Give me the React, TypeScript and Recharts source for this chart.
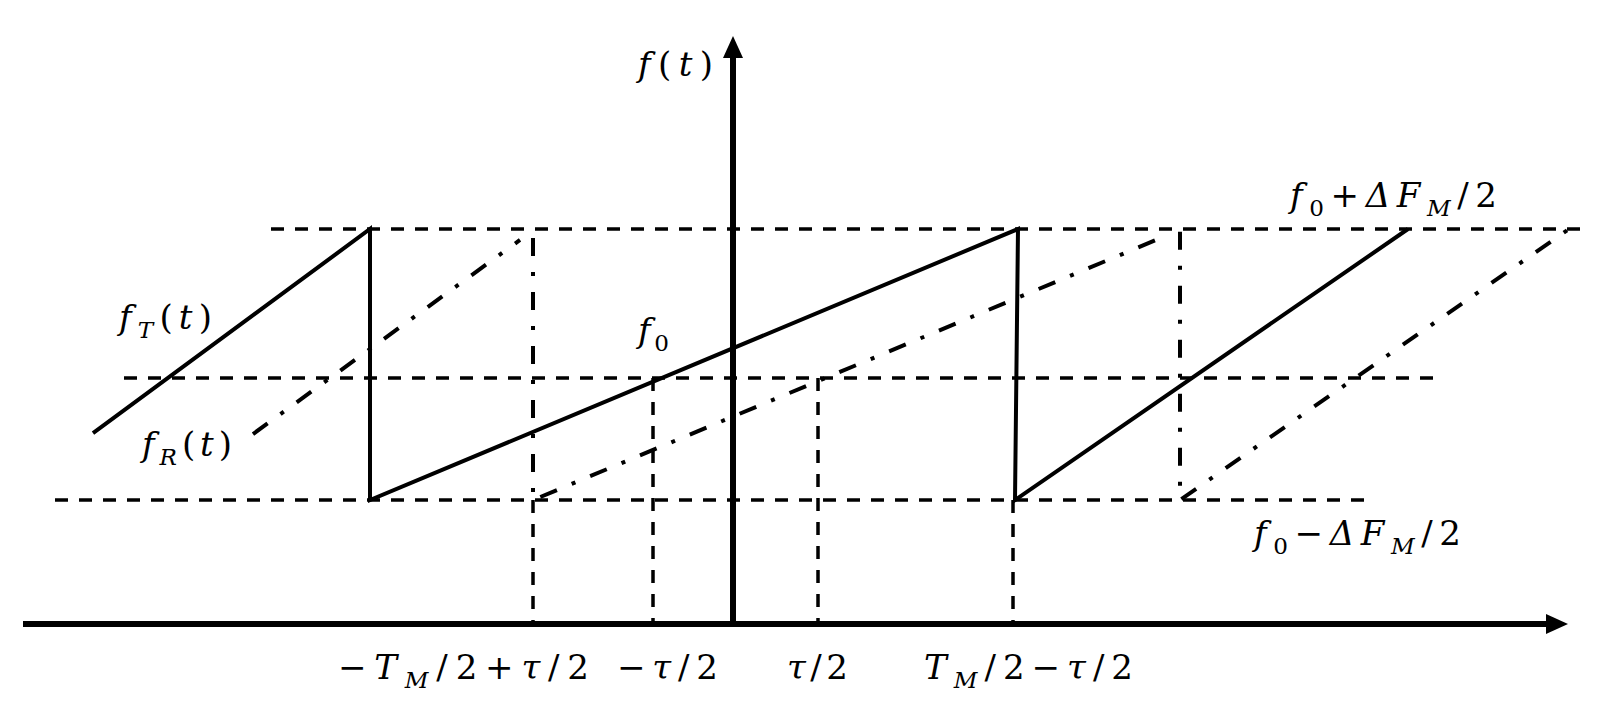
import React from 'react';
import { LineChart, Line, XAxis, YAxis, ReferenceLine, ReferenceDot } from 'recharts';

// ---- data (t: time units, f: normalised frequency; f0 ± ΔF_M/2 = ±1) ----
const X_DOMAIN: [number, number] = [-7.33, 8.88];
const Y_DOMAIN: [number, number] = [-2.579, 2.69];

const F_TOP = 1; // f0 + ΔF_M/2
const F_MID = -0.1; // f0
const F_BOT = -1; // f0 - ΔF_M/2
const AXIS_F = -1.915;
const AXIS_TOP = 2.424;
const AXIS_LEFT = -7.1;
const AXIS_RIGHT = 8.35;

const transmitted = [
  { t: -6.4, f: -0.506 },
  { t: -3.63, f: 1 },
  { t: -3.63, f: -1 },
  { t: 2.85, f: 1 },
  { t: 2.82, f: -1 },
  { t: 6.75, f: 1 },
];

const received = [
  { t: -4.8, f: -0.513 },
  { t: -2.13, f: 0.919 },
  { t: -2.07, f: null },
  { t: -2.0, f: 0.934 },
  { t: -2.0, f: -1 },
  { t: 4.23, f: 0.919 },
  { t: 4.35, f: null },
  { t: 4.47, f: 0.98 },
  { t: 4.47, f: -1 },
  { t: 8.36, f: 1 },
];

const levelLines = [
  { f: F_TOP, from: -4.62, to: 8.49 },
  { f: F_MID, from: -6.09, to: 7.07 },
  { f: F_BOT, from: -6.78, to: 6.37 },
];

const tickDrops = [
  { t: -2.0, from: F_BOT },
  { t: -0.8, from: F_MID },
  { t: 0.85, from: F_MID },
  { t: 2.8, from: F_BOT },
];

type Part = [string, string];

const tickLabels: { t: number; parts: Part[]; width: number; dx: number }[] = [
  { t: -2.0, parts: [['−', 'n'], ['T', 'i'], ['M', 'is'], ['/2+', 'n'], ['τ', 'i'], ['/2', 'n']], width: 251, dx: -195 },
  { t: -0.8, parts: [['−', 'n'], ['τ', 'i'], ['/2', 'n']], width: 101, dx: -36 },
  { t: 0.85, parts: [['τ', 'i'], ['/2', 'n']], width: 61, dx: -31 },
  { t: 2.8, parts: [['T', 'i'], ['M', 'is'], ['/2−', 'n'], ['τ', 'i'], ['/2', 'n']], width: 209, dx: -89 },
];

const curveLabels: { t: number; f: number; parts: Part[]; width: number; dx: number; dy: number }[] = [
  { t: 0, f: AXIS_TOP, parts: [['f', 'i'], ['(', 'n'], ['t', 'i'], [')', 'n']], width: 75, dx: -95, dy: 40 },
  { t: -6.4, f: -0.506, parts: [['f', 'i'], ['T', 'is'], ['(', 'n'], ['t', 'i'], [')', 'n']], width: 93, dx: 26, dy: -104 },
  { t: -4.8, f: -0.513, parts: [['f', 'i'], ['R', 'is'], ['(', 'n'], ['t', 'i'], [')', 'n']], width: 90, dx: -111, dy: 22 },
  { t: -0.8, f: F_MID, parts: [['f', 'i'], ['0', 'ns']], width: 31, dx: -15, dy: -36 },
  { t: 8.49, f: F_TOP, parts: [['f', 'i'], ['0', 'ns'], ['+', 'n'], ['ΔF', 'i'], ['M', 'is'], ['/2', 'n']], width: 207, dx: -292, dy: -22 },
  { t: 6.37, f: F_BOT, parts: [['f', 'i'], ['0', 'ns'], ['−', 'n'], ['ΔF', 'i'], ['M', 'is'], ['/2', 'n']], width: 207, dx: -116, dy: 45 },
];

// ---- drawing helpers ----
const FONT = 'DejaVu Serif';
const SIZE = 34;

function MathText({ x, y, parts, width }: { x: number; y: number; parts: Part[]; width: number }) {
  let shifted = false;
  const kids = parts.map(([s, st], i) => {
    const sub = st.endsWith('s');
    const italic = st.startsWith('i');
    let dy: number | undefined;
    if (sub && !shifted) {
      dy = SIZE * 0.26;
      shifted = true;
    } else if (!sub && shifted) {
      dy = -SIZE * 0.26;
      shifted = false;
    }
    return (
      <tspan key={i} dy={dy} fontStyle={italic ? 'italic' : 'normal'} fontSize={sub ? SIZE * 0.68 : SIZE}>
        {s}
      </tspan>
    );
  });
  return (
    <text
      x={x}
      y={y}
      fontSize={SIZE}
      fill="#000"
      textLength={width}
      lengthAdjust="spacing"
      style={{ fontFamily: FONT }}
    >
      {kids}
    </text>
  );
}

const ArrowLine = (props: any) => {
  const { x1, y1, x2, y2 } = props;
  const dx = x2 - x1;
  const dy = y2 - y1;
  const len = Math.hypot(dx, dy) || 1;
  const ux = dx / len;
  const uy = dy / len;
  const head = 22;
  const half = 10;
  const bx = x2 - ux * head;
  const by = y2 - uy * head;
  return (
    <g>
      <line x1={x1} y1={y1} x2={bx + ux * 2} y2={by + uy * 2} stroke="#000" strokeWidth={6} />
      <polygon
        points={`${x2},${y2} ${bx - uy * half},${by + ux * half} ${bx + uy * half},${by - ux * half}`}
        fill="#000"
      />
    </g>
  );
};

export default function App() {
  return (
    <div style={{ position: 'absolute', left: 0, top: 0, width: 1621, height: 714, background: '#fff' }}>
      <LineChart width={1621} height={714} margin={{ top: 0, right: 0, bottom: 0, left: 0 }}>
        <XAxis type="number" dataKey="t" domain={X_DOMAIN} allowDataOverflow hide />
        <YAxis type="number" dataKey="f" domain={Y_DOMAIN} allowDataOverflow hide />

        {levelLines.map((l, i) => (
          <ReferenceLine
            key={'lv' + i}
            segment={[
              { x: l.from, y: l.f },
              { x: l.to, y: l.f },
            ]}
            stroke="#000"
            strokeWidth={3.5}
            strokeDasharray="13 11"
            ifOverflow="visible"
          />
        ))}
        {tickDrops.map((d, i) => (
          <ReferenceLine
            key={'td' + i}
            segment={[
              { x: d.t, y: d.from },
              { x: d.t, y: AXIS_F },
            ]}
            stroke="#000"
            strokeWidth={3.5}
            strokeDasharray="13 11"
            ifOverflow="visible"
          />
        ))}

        <Line
          data={transmitted}
          dataKey="f"
          type="linear"
          stroke="#000"
          strokeWidth={4}
          strokeLinejoin="miter"
          dot={false}
          activeDot={false}
          isAnimationActive={false}
        />
        <Line
          data={received}
          dataKey="f"
          type="linear"
          stroke="#000"
          strokeWidth={4}
          strokeDasharray="18 16 4 16"
          connectNulls={false}
          dot={false}
          activeDot={false}
          isAnimationActive={false}
        />

        <ReferenceLine
          segment={[
            { x: AXIS_LEFT, y: AXIS_F },
            { x: AXIS_RIGHT, y: AXIS_F },
          ]}
          shape={ArrowLine}
          ifOverflow="visible"
        />
        <ReferenceLine
          segment={[
            { x: 0, y: AXIS_F },
            { x: 0, y: AXIS_TOP },
          ]}
          shape={ArrowLine}
          ifOverflow="visible"
        />

        {tickLabels.map((l, i) => (
          <ReferenceDot
            key={'tl' + i}
            x={l.t}
            y={AXIS_F}
            r={0}
            ifOverflow="visible"
            shape={(p: any) => <MathText x={p.cx + l.dx} y={p.cy + 55} parts={l.parts} width={l.width} />}
          />
        ))}
        {curveLabels.map((l, i) => (
          <ReferenceDot
            key={'cl' + i}
            x={l.t}
            y={l.f}
            r={0}
            ifOverflow="visible"
            shape={(p: any) => <MathText x={p.cx + l.dx} y={p.cy + l.dy} parts={l.parts} width={l.width} />}
          />
        ))}
      </LineChart>
    </div>
  );
}
